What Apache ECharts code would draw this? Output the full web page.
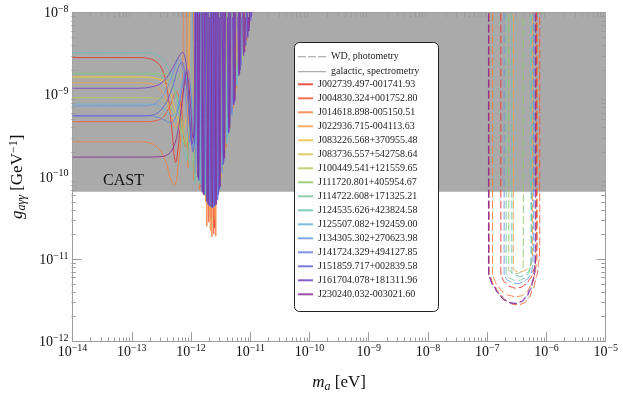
<!DOCTYPE html>
<html><head><meta charset="utf-8">
<script src="https://cdn.jsdelivr.net/npm/echarts@6/dist/echarts.min.js"></script>
<style>html,body{margin:0;padding:0;background:#fff}#c{width:623px;height:398px}</style>
</head><body><div id="c"></div>
<script>
// ---------- data ----------
const sourceNames = ['J002739.497-001741.93','J004830.324+001752.80','J014618.898-005150.51','J022936.715-004113.63',
 'J083226.568+370955.48','J083736.557+542758.64','J100449.541+121559.65','J111720.801+405954.67',
 'J114722.608+171325.21','J124535.626+423824.58','J125507.082+192459.00','J134305.302+270623.98',
 'J141724.329+494127.85','J151859.717+002839.58','J161704.078+181311.96','J230240.032-003021.60'];
const sourceColors = ['#e6362f','#ee5a3a','#f2803e','#f5a14a','#ecbe4a','#d6c650','#b4cc5e','#8fc76f',
 '#7cc49a','#6cc2b3','#69b2d8','#6a97e0','#6a7ee3','#6561d6','#7343c0','#8a2f97'];
const xTickExps = [-14,-13,-12,-11,-10,-9,-8,-7,-6,-5];
const yTickExps = [-12,-11,-10,-9,-8];
const castLimit = 6.6e-11;
const OFF = 1e-6; // oscillation peaks lie far above the plotted range

const gal01 = [[1e-14,2.84e-9],[1.2e-13,2.84e-9],[2.2e-13,2.7e-9],[3.2e-13,2.1e-9],[4e-13,1.1e-9],[4.8e-13,3.5e-10],[5.5e-13,1.5e-10],[6.2e-13,2.6e-10],[7.3e-13,1e-9],[8.6e-13,1.6e-9],[1e-12,7e-10],[1.12e-12,2.4e-10],[1.22e-12,4e-10],
 [1.34e-12,OFF],[1.47e-12,7.5e-11],[1.6e-12,OFF],[1.78e-12,5.5e-11],[1.95e-12,OFF],[2.15e-12,3.2e-11],[2.3e-12,OFF],[2.5e-12,2.4e-11],[2.7e-12,OFF],[3.1e-12,8e-11],[3.5e-12,OFF],[4.3e-12,3.5e-10],[5e-12,OFF],[6.8e-12,2.2e-9],[7.6e-12,OFF],[9.6e-12,7e-9],[1.1e-11,OFF]];
const gal02 = [[1e-14,4.7e-10],[1.5e-13,4.7e-10],[3e-13,5e-10],[4.5e-13,7.5e-10],[5.6e-13,1.1e-9],[6.8e-13,7e-10],[8.2e-13,2.3e-10],[9.4e-13,3e-10],[1.05e-12,1.2e-9],
 [1.16e-12,OFF],[1.3e-12,1.1e-10],[1.42e-12,OFF],[1.62e-12,6e-11],[1.8e-12,OFF],[2e-12,2.8e-11],[2.2e-12,OFF],[2.42e-12,2e-11],[2.6e-12,OFF],[2.95e-12,6.5e-11],[3.3e-12,OFF],[3.9e-12,2.3e-10],[4.6e-12,OFF],[5.8e-12,1.2e-9],[6.8e-12,OFF],[8.7e-12,4.6e-9],[1e-11,OFF]];
const gal03 = [[1e-14,2.67e-10],[1.5e-13,2.67e-10],[2.3e-13,2.5e-10],[3e-13,2.1e-10],[3.8e-13,1.5e-10],[4.6e-13,9e-11],[5.3e-13,8e-11],[6e-13,1.3e-10],[7e-13,5e-10],[8e-13,OFF],
 [8.9e-13,1.3e-10],[1e-12,OFF],[1.12e-12,9e-11],[1.24e-12,OFF],[1.4e-12,7e-11],[1.55e-12,OFF],[1.85e-12,2.5e-11],[2.02e-12,OFF],[2.25e-12,1.85e-11],[2.45e-12,OFF],[2.62e-12,1.9e-11],[2.8e-12,OFF],[3.4e-12,1.2e-10],[4e-12,OFF],[5.2e-12,7e-10],[6.2e-12,OFF],[8e-12,3.5e-9],[9.4e-12,OFF]];
const gal04 = [[1e-14,1.4e-9],[1.4e-13,1.4e-9],[2.5e-13,1.3e-9],[3.5e-13,1e-9],[4.5e-13,6e-10],[5.5e-13,4e-10],[6.5e-13,6e-10],[7.5e-13,1.6e-9],[8.5e-13,2.2e-9],[9.6e-13,1.1e-9],[1.07e-12,4e-10],[1.17e-12,6e-10],
 [1.28e-12,OFF],[1.44e-12,8e-11],[1.58e-12,OFF],[1.76e-12,5e-11],[1.92e-12,OFF],[2.12e-12,2.2e-11],[2.3e-12,OFF],[2.55e-12,3e-11],[2.75e-12,OFF],[3.2e-12,9.5e-11],[3.6e-12,OFF],[4.5e-12,4e-10],[5.3e-12,OFF],[6.9e-12,2.3e-9],[8e-12,OFF]];
const gal05 = [[1e-14,1.66e-9],[1.5e-13,1.66e-9],[2.8e-13,1.55e-9],[4e-13,1.25e-9],[5e-13,8e-10],[6e-13,5e-10],[7e-13,3.5e-10],[8e-13,4.5e-10],[9e-13,1.2e-9],[1e-12,OFF],
 [1.1e-12,1.6e-10],[1.2e-12,OFF],[1.36e-12,9e-11],[1.5e-12,OFF],[1.7e-12,6e-11],[1.86e-12,OFF],[2.05e-12,4e-11],[2.22e-12,OFF],[2.45e-12,4.2e-11],[2.65e-12,OFF],[3e-12,7.5e-11],[3.35e-12,OFF],[4.1e-12,2.8e-10],[4.8e-12,OFF],[6.1e-12,1.4e-9],[7.1e-12,OFF]];
const gal06 = [[1e-14,1.62e-9],[1.6e-13,1.62e-9],[3e-13,1.55e-9],[4.2e-13,1.4e-9],[5.2e-13,1.1e-9],[6.2e-13,7e-10],[7.2e-13,4e-10],[8.3e-13,2.7e-10],[9.3e-13,4e-10],[1.03e-12,1e-9],[1.13e-12,OFF],
 [1.24e-12,1.1e-10],[1.35e-12,OFF],[1.53e-12,7e-11],[1.68e-12,OFF],[1.9e-12,5e-11],[2.07e-12,OFF],[2.35e-12,4.5e-11],[2.55e-12,OFF],[2.9e-12,6e-11],[3.2e-12,OFF],[3.8e-12,2.1e-10],[4.4e-12,OFF],[5.6e-12,1e-9],[6.6e-12,OFF]];
const gal07 = [[1e-14,9.2e-10],[1.5e-13,9.2e-10],[2.8e-13,9e-10],[4e-13,8e-10],[5e-13,6.5e-10],[6e-13,5e-10],[7e-13,3.2e-10],[8e-13,2.5e-10],[9e-13,3.5e-10],[1e-12,9e-10],[1.1e-12,1.4e-9],[1.2e-12,6e-10],
 [1.32e-12,OFF],[1.46e-12,8.5e-11],[1.62e-12,OFF],[1.82e-12,5.5e-11],[1.98e-12,OFF],[2.2e-12,4.3e-11],[2.4e-12,OFF],[2.7e-12,5e-11],[2.95e-12,OFF],[3.45e-12,1.3e-10],[3.9e-12,OFF],[4.8e-12,5.5e-10],[5.7e-12,OFF],[7.3e-12,2.7e-9],[8.5e-12,OFF]];
const gal08 = [[1e-14,1.83e-9],[2e-13,1.83e-9],[3.5e-13,1.8e-9],[4.8e-13,1.75e-9],[5.8e-13,1.6e-9],[6.8e-13,1.8e-9],[7.8e-13,2e-9],[8.8e-13,1.2e-9],[9.8e-13,5e-10],[1.08e-12,3.5e-10],[1.18e-12,6e-10],[1.28e-12,OFF],
 [1.4e-12,8.5e-11],[1.54e-12,OFF],[1.74e-12,6e-11],[1.9e-12,OFF],[2.1e-12,4.4e-11],[2.28e-12,OFF],[2.52e-12,4.6e-11],[2.72e-12,OFF],[3.15e-12,8.5e-11],[3.55e-12,OFF],[4.4e-12,3.8e-10],[5.2e-12,OFF],[6.7e-12,2e-9],[7.8e-12,OFF]];
const gal09 = [[1e-14,1.8e-9],[1.6e-13,1.8e-9],[3e-13,1.7e-9],[4.2e-13,1.45e-9],[5.2e-13,1.1e-9],[6.2e-13,7.5e-10],[7.2e-13,4.5e-10],[8.2e-13,2.6e-10],[9.2e-13,1.5e-10],[1.02e-12,1.2e-10],[1.1e-12,2.5e-10],[1.2e-12,OFF],
 [1.3e-12,9.5e-11],[1.42e-12,OFF],[1.6e-12,6.5e-11],[1.76e-12,OFF],[1.96e-12,4.8e-11],[2.14e-12,OFF],[2.38e-12,4.4e-11],[2.58e-12,OFF],[2.92e-12,6.2e-11],[3.25e-12,OFF],[3.95e-12,2.5e-10],[4.6e-12,OFF],[5.9e-12,1.3e-9],[6.9e-12,OFF]];
const gal10 = [[1e-14,3.26e-9],[1.5e-13,3.26e-9],[2.5e-13,3.1e-9],[3.5e-13,2.6e-9],[4.5e-13,1.8e-9],[5.5e-13,1.1e-9],[6.5e-13,5e-10],[7.5e-13,2.2e-10],[8.5e-13,1.6e-10],[9.5e-13,5e-10],[1.02e-12,1e-9],[1.1e-12,3e-10],[1.16e-12,8.5e-11],[1.22e-12,3e-10],[1.3e-12,OFF],
 [1.42e-12,8e-11],[1.56e-12,OFF],[1.72e-12,6e-11],[1.88e-12,OFF],[2.08e-12,4.6e-11],[2.26e-12,OFF],[2.48e-12,4.3e-11],[2.68e-12,OFF],[3.05e-12,7e-11],[3.4e-12,OFF],[4.2e-12,3e-10],[4.9e-12,OFF]];
const gal11 = [[1e-14,7.7e-10],[1.5e-13,7.7e-10],[2.8e-13,7.4e-10],[3.8e-13,6.4e-10],[4.8e-13,5.5e-10],[5.8e-13,6.5e-10],[6.8e-13,1.2e-9],[7.8e-13,1.8e-9],[8.8e-13,1.3e-9],[9.8e-13,5e-10],[1.08e-12,2.2e-10],[1.16e-12,3e-10],[1.25e-12,OFF],
 [1.36e-12,9e-11],[1.49e-12,OFF],[1.66e-12,6e-11],[1.82e-12,OFF],[2.02e-12,4.5e-11],[2.2e-12,OFF],[2.44e-12,4.3e-11],[2.64e-12,OFF],[3e-12,6.8e-11],[3.35e-12,OFF],[4.05e-12,2.6e-10],[4.7e-12,OFF],[6e-12,1.3e-9],[7e-12,OFF]];
const gal12 = [[1e-14,7.3e-10],[1.3e-13,7.3e-10],[2.3e-13,7.6e-10],[3.3e-13,9.5e-10],[4.3e-13,1.4e-9],[5.3e-13,2.1e-9],[6.2e-13,2.7e-9],[7e-13,2.3e-9],[7.8e-13,1.2e-9],[8.6e-13,5e-10],[9.4e-13,2.6e-10],[1.02e-12,4e-10],[1.1e-12,OFF],
 [1.2e-12,1.1e-10],[1.32e-12,OFF],[1.5e-12,7e-11],[1.64e-12,OFF],[1.84e-12,5e-11],[2e-12,OFF],[2.22e-12,4.2e-11],[2.4e-12,OFF],[2.68e-12,4.6e-11],[2.9e-12,OFF],[3.35e-12,1.1e-10],[3.75e-12,OFF],[4.55e-12,4.4e-10],[5.3e-12,OFF],[6.6e-12,1.9e-9],[7.6e-12,OFF],[9e-12,5.2e-9],[1.02e-11,OFF]];
const gal13 = [[1e-14,5.6e-10],[1.5e-13,5.6e-10],[2.6e-13,5.4e-10],[3.6e-13,4.9e-10],[4.6e-13,4.5e-10],[5.6e-13,5.5e-10],[6.6e-13,9e-10],[7.6e-13,1.6e-9],[8.6e-13,2.1e-9],[9.6e-13,1.4e-9],[1.06e-12,5e-10],[1.14e-12,2.5e-10],[1.22e-12,OFF],
 [1.33e-12,9.5e-11],[1.45e-12,OFF],[1.63e-12,6.2e-11],[1.78e-12,OFF],[1.98e-12,4.6e-11],[2.16e-12,OFF],[2.36e-12,4.2e-11],[2.55e-12,OFF],[2.82e-12,5.2e-11],[3.08e-12,OFF],[3.6e-12,1.6e-10],[4.05e-12,OFF],[4.9e-12,5.6e-10],[5.7e-12,OFF],[7e-12,2.3e-9],[8.1e-12,OFF],[9.4e-12,6e-9],[1.06e-11,OFF]];
const gal14 = [[1e-14,5.5e-10],[1.4e-13,5.5e-10],[2.5e-13,5.8e-10],[3.6e-13,7.5e-10],[4.8e-13,1.2e-9],[5.9e-13,2e-9],[7e-13,2.5e-9],[8e-13,1.7e-9],[9e-13,7e-10],[1e-12,3e-10],[1.08e-12,2e-10],[1.16e-12,4e-10],[1.24e-12,OFF],
 [1.35e-12,9e-11],[1.47e-12,OFF],[1.68e-12,6e-11],[1.84e-12,OFF],[2.05e-12,4.4e-11],[2.22e-12,OFF],[2.46e-12,4.4e-11],[2.62e-12,OFF],[2.9e-12,6e-11],[3.12e-12,OFF],[3.5e-12,1.4e-10],[3.8e-12,OFF],[4.3e-12,3.4e-10],[4.75e-12,OFF],[5.4e-12,8e-10],[5.9e-12,OFF],[6.8e-12,2e-9],[7.5e-12,OFF],[8.4e-12,4e-9],[9.2e-12,OFF],[1.02e-11,8e-9],[1.1e-11,OFF]];
const gal15 = [[1e-14,1.2e-9],[1.2e-13,1.2e-9],[2.2e-13,1.25e-9],[3.2e-13,1.4e-9],[4.2e-13,1.75e-9],[5.2e-13,2.3e-9],[6.2e-13,2.9e-9],[7.2e-13,3.3e-9],[8e-13,2.8e-9],[8.8e-13,1.4e-9],[9.6e-13,5e-10],[1.04e-12,2.5e-10],[1.12e-12,3.5e-10],[1.2e-12,OFF],
 [1.3e-12,1e-10],[1.4e-12,OFF],[1.55e-12,6.5e-11],[1.68e-12,OFF],[1.86e-12,5e-11],[2e-12,OFF],[2.18e-12,4.3e-11],[2.34e-12,OFF],[2.56e-12,4.5e-11],[2.72e-12,OFF],[3e-12,7e-11],[3.2e-12,OFF],[3.55e-12,1.5e-10],[3.85e-12,OFF],[4.35e-12,3.5e-10],[4.7e-12,OFF],[5.25e-12,7.5e-10],[5.7e-12,OFF],[6.4e-12,1.7e-9],[6.9e-12,OFF],[7.7e-12,3e-9],[8.3e-12,OFF],[9.1e-12,5e-9],[9.8e-12,OFF],[1.05e-11,9e-9],[1.12e-11,OFF]];
const gal16 = [[1e-14,1.74e-10],[1.5e-13,1.74e-10],[3e-13,1.76e-10],[4.2e-13,1.9e-10],[5.2e-13,2.4e-10],[6e-13,3.6e-10],[6.8e-13,6.5e-10],[7.6e-13,1.3e-9],[8.4e-13,1.9e-9],[9.2e-13,1.3e-9],[1e-12,6e-10],[1.08e-12,3e-10],[1.16e-12,4e-10],[1.24e-12,OFF],
 [1.34e-12,9.5e-11],[1.45e-12,OFF],[1.62e-12,6.2e-11],[1.76e-12,OFF],[1.94e-12,4.6e-11],[2.1e-12,OFF],[2.3e-12,4.2e-11],[2.46e-12,OFF],[2.66e-12,4.6e-11],[2.84e-12,OFF],[3.1e-12,7.5e-11],[3.32e-12,OFF],[3.68e-12,1.7e-10],[3.98e-12,OFF],[4.5e-12,3.9e-10],[4.9e-12,OFF],[5.5e-12,8.5e-10],[6e-12,OFF],[6.6e-12,1.8e-9],[7.2e-12,OFF],[8e-12,3.3e-9],[8.7e-12,OFF],[9.5e-12,6e-9],[1.03e-11,OFF]];

const wd01 = [[1.7e-7,OFF],[1.7e-7,6.3e-12],[1.95e-7,5.2e-12],[2.4e-7,4.6e-12],[3e-7,4.4e-12],[3.7e-7,4.5e-12],[4.5e-7,4.9e-12],[5.4e-7,5.8e-12],[6.2e-7,7.5e-12],[6.7e-7,1e-11],[6.8e-7,1.5e-11],[6.8e-7,OFF]];
const wd02 = [[1.08e-7,OFF],[1.08e-7,6.4e-12],[1.3e-7,4.8e-12],[1.6e-7,3.8e-12],[2.1e-7,3.1e-12],[2.7e-7,2.8e-12],[3.4e-7,2.75e-12],[4.2e-7,2.9e-12],[5.1e-7,3.4e-12],[6e-7,4.4e-12],[6.9e-7,6.3e-12],[7.5e-7,9.5e-12],[7.7e-7,1.5e-11],[7.7e-7,OFF]];
const wd03 = [[1.23e-7,OFF],[1.23e-7,6.2e-12],[1.45e-7,4.9e-12],[1.8e-7,4e-12],[2.3e-7,3.6e-12],[3e-7,3.45e-12],[3.8e-7,3.55e-12],[4.7e-7,4e-12],[5.6e-7,4.9e-12],[6.4e-7,6.5e-12],[6.9e-7,9.5e-12],[7e-7,1.4e-11],[7e-7,OFF]];
const wd04 = [[2.76e-7,OFF],[2.76e-7,7.4e-12],[3.2e-7,7e-12],[3.8e-7,7e-12],[4.5e-7,7.3e-12],[5.2e-7,8e-12],[5.8e-7,1e-11],[5.8e-7,OFF]];
const wd08 = [[2.31e-7,OFF],[2.31e-7,7.2e-12],[2.7e-7,6.7e-12],[3.2e-7,6.6e-12],[3.7e-7,6.9e-12],[4e-7,7.6e-12],[4.07e-7,9e-12],[4.07e-7,OFF]];
const wd09 = [[2.09e-7,OFF],[2.09e-7,6.3e-12],[2.4e-7,5.8e-12],[2.9e-7,5.5e-12],[3.5e-7,5.5e-12],[4.2e-7,5.8e-12],[4.9e-7,6.5e-12],[5.4e-7,7.8e-12],[5.6e-7,1e-11],[5.6e-7,OFF]];
const wd10 = [[2.6e-7,OFF],[2.6e-7,6.7e-12],[3e-7,6.3e-12],[3.6e-7,6.1e-12],[4.3e-7,6.3e-12],[5e-7,7e-12],[5.4e-7,8.5e-12],[5.5e-7,1.1e-11],[5.5e-7,OFF]];
const wd12 = [[1.93e-7,OFF],[1.93e-7,6.2e-12],[2.2e-7,5.5e-12],[2.7e-7,5.1e-12],[3.3e-7,5e-12],[4e-7,5.2e-12],[4.8e-7,5.7e-12],[5.5e-7,6.6e-12],[5.9e-7,8.5e-12],[6e-7,1.2e-11],[6e-7,OFF]];
const wd15 = [[1.06e-7,OFF],[1.06e-7,6.1e-12],[1.27e-7,4.7e-12],[1.55e-7,3.8e-12],[1.95e-7,3.15e-12],[2.5e-7,2.92e-12],[3.1e-7,2.88e-12],[3.8e-7,3.05e-12],[4.6e-7,3.5e-12],[5.3e-7,4.3e-12],[6e-7,5.8e-12],[6.35e-7,8.5e-12],[6.45e-7,1.3e-11],[6.45e-7,OFF]];
const wd16 = [[1.05e-7,OFF],[1.05e-7,6.3e-12],[1.25e-7,4.8e-12],[1.5e-7,3.9e-12],[1.9e-7,3.2e-12],[2.5e-7,2.9e-12],[3.1e-7,2.85e-12],[3.8e-7,3e-12],[4.6e-7,3.4e-12],[5.4e-7,4.2e-12],[6.1e-7,5.6e-12],[6.5e-7,8e-12],[6.6e-7,1.2e-11],[6.6e-7,OFF]];

const galactic = [gal01,gal02,gal03,gal04,gal05,gal06,gal07,gal08,gal09,gal10,gal11,gal12,gal13,gal14,gal15,gal16];
const whiteDwarf = [wd01,wd02,wd03,wd04,null,null,null,wd08,wd09,wd10,null,wd12,null,null,wd15,wd16];

// ---------- chart ----------
const FONT = '"Liberation Serif", "DejaVu Serif", serif';
const chart = echarts.init(document.getElementById('c'), null, {renderer: 'canvas'});
const tickRich = {
  b: {fontFamily: FONT, fontSize: 14, lineHeight: 16, verticalAlign: 'bottom', color: '#111'},
  s: {fontFamily: FONT, fontSize: 10, lineHeight: 12, verticalAlign: 'top', color: '#111'}
};
function tickFmt(v) {
  const e = Math.round(Math.log10(v));
  return '{b|10}{s|\u2212' + Math.abs(e) + '}';
}
const nameRich = {
  i: {fontFamily: FONT, fontSize: 17, fontStyle: 'italic', lineHeight: 20, verticalAlign: 'middle', color: '#111'},
  r: {fontFamily: FONT, fontSize: 17, lineHeight: 20, verticalAlign: 'middle', color: '#111'},
  sub: {fontFamily: FONT, fontSize: 12, fontStyle: 'italic', lineHeight: 16, verticalAlign: 'bottom', color: '#111'},
  sup: {fontFamily: FONT, fontSize: 12, lineHeight: 16, verticalAlign: 'top', color: '#111'}
};
const axisCommon = {
  type: 'log', logBase: 10,
  axisLine: {lineStyle: {color: '#9c9c9c', width: 1}},
  axisTick: {inside: true, length: 9, lineStyle: {color: '#9c9c9c', width: 1}},
  splitLine: {show: false}, minorTick: {show: false}
};

const series = [];
series.push({type: 'line', name: 'WD, photometry', data: [], symbol: 'none',
  itemStyle: {color: '#9a9a9a'}, lineStyle: {color: '#9a9a9a', width: 1, type: [7, 3]}});
series.push({type: 'line', name: 'galactic, spectrometry', data: [], symbol: 'none',
  itemStyle: {color: '#9a9a9a'}, lineStyle: {color: '#9a9a9a', width: 1}});
series.push({type: 'line', name: 'CAST', data: [[1e-14, 1e-8]], symbol: 'none', z: 1, silent: true,
  lineStyle: {opacity: 0},
  markArea: {silent: true, itemStyle: {color: '#aaaaaa', opacity: 1},
    data: [[{xAxis: 1e-14, yAxis: castLimit}, {xAxis: 1e-5, yAxis: 1e-8}]]}});
sourceNames.forEach((n, i) => {
  series.push({type: 'line', name: n, data: galactic[i], symbol: 'none', smooth: 0.35, z: 2, clip: true,
    itemStyle: {color: sourceColors[i]}, lineStyle: {color: sourceColors[i], width: 1, opacity: 0.85}});
});
sourceNames.forEach((n, i) => {
  if (!whiteDwarf[i]) return;
  series.push({type: 'line', name: n, data: whiteDwarf[i], symbol: 'none', smooth: 0.3, smoothMonotone: 'x', z: 3, clip: true,
    itemStyle: {color: sourceColors[i]}, lineStyle: {color: sourceColors[i], width: 1, type: [8, 3], opacity: 0.9}});
});

const legendText = {fontFamily: FONT, fontSize: 10, color: '#222', lineHeight: 12};
const option = {
  animation: false,
  backgroundColor: '#fff',
  grid: {left: 71.3, right: 17.3, top: 12.7, bottom: 56},
  xAxis: [
    Object.assign({}, axisCommon, {min: 1e-14, max: 1e-5, interval: 1, position: 'bottom',
      axisLabel: {formatter: tickFmt, rich: tickRich, margin: 2},
      name: '{i|m}{sub|a}{r| [eV]}', nameLocation: 'middle', nameGap: 32,
      nameTextStyle: {rich: nameRich}}),
    Object.assign({}, axisCommon, {min: 1e-14, max: 1e-5, interval: 1, position: 'top', axisLabel: {show: false}})
  ],
  yAxis: [
    Object.assign({}, axisCommon, {min: 1e-12, max: 1e-8, interval: 1, position: 'left',
      axisLabel: {formatter: tickFmt, rich: tickRich, margin: 4},
      name: '{i|g}{sub|a\u03b3\u03b3}{r| [GeV}{sup|\u22121}{r|]}', nameLocation: 'middle', nameGap: 38, nameRotate: 90,
      nameTextStyle: {rich: nameRich}}),
    Object.assign({}, axisCommon, {min: 1e-12, max: 1e-8, interval: 1, position: 'right', axisLabel: {show: false}})
  ],
  legend: [
    {data: [{name: 'WD, photometry', icon: 'path://M0,0H8V1H0ZM10,0H18V1H10ZM20,0H28V1H20Z'},
            {name: 'galactic, spectrometry', icon: 'rect'}],
      orient: 'vertical', left: 298, top: 50.7,
      itemWidth: 28, itemHeight: 1, itemGap: 3, selectedMode: false, z: 10, padding: 0,
      textStyle: legendText},
    {data: sourceNames.map(n => ({name: n, icon: 'rect'})), orient: 'vertical', left: 298, top: 78.3,
      itemWidth: 15, itemHeight: 2, itemGap: 2, selectedMode: false, z: 10, padding: 0,
      itemStyle: {opacity: 0.85},
      textStyle: legendText}
  ],
  series: series
};
chart.setOption(option);

// minor ticks (log 2..9 within each decade), positioned through the axes' own scales
const minorFactors = [2, 3, 4, 5, 6, 7, 8, 9];
const gl = 71.3, gr = 623 - 17.3, gt = 12.7, gb = 398 - 56;
const graphics = [];
const tickStyle = {stroke: '#9c9c9c', lineWidth: 1};
for (let e = -14; e < -5; e++) {
  minorFactors.forEach(f => {
    const x = Math.round(chart.convertToPixel({xAxisIndex: 0}, f * Math.pow(10, e))) + 0.5;
    graphics.push({type: 'line', silent: true, z: 5, shape: {x1: x, y1: gb, x2: x, y2: gb - 4.5}, style: tickStyle});
    graphics.push({type: 'line', silent: true, z: 5, shape: {x1: x, y1: gt, x2: x, y2: gt + 4.5}, style: tickStyle});
  });
}
for (let e = -12; e < -8; e++) {
  minorFactors.forEach(f => {
    const y = Math.round(chart.convertToPixel({yAxisIndex: 0}, f * Math.pow(10, e))) + 0.5;
    graphics.push({type: 'line', silent: true, z: 5, shape: {x1: gl, y1: y, x2: gl + 4.5, y2: y}, style: tickStyle});
    graphics.push({type: 'line', silent: true, z: 5, shape: {x1: gr, y1: y, x2: gr - 4.5, y2: y}, style: tickStyle});
  });
}
// legend frame
graphics.push({type: 'rect', silent: true, z: 8, shape: {x: 294.5, y: 42.5, width: 144, height: 269, r: 5},
  style: {fill: '#fff', stroke: '#222', lineWidth: 1}});
// CAST label
graphics.push({type: 'text', silent: true, z: 6, left: 103, top: 173,
  style: {text: 'CAST', fontFamily: FONT, fontSize: 16, fill: '#111'}});
chart.setOption({graphic: graphics});
</script>
</body></html>
